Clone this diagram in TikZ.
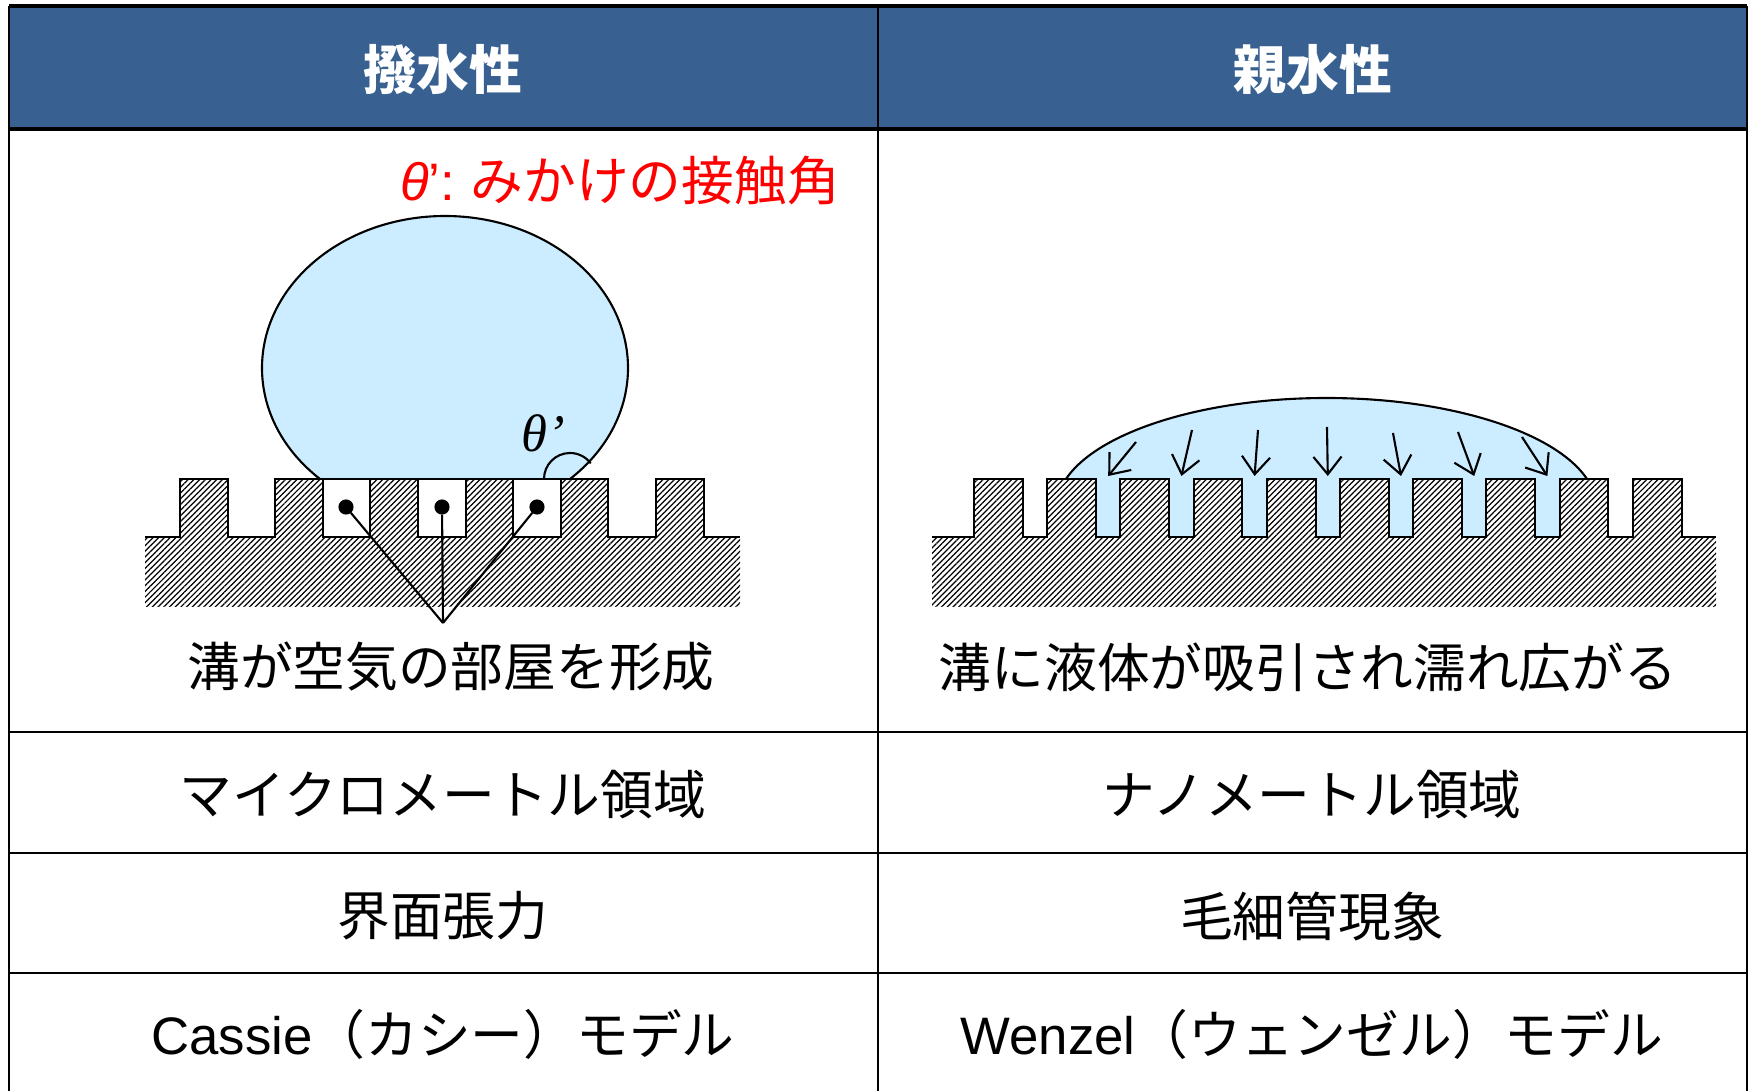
\documentclass[tikz,border=0pt]{standalone}
\usepackage{fontspec}
\setmainfont{Liberation Sans}
\newfontfamily\jp{Noto Sans CJK JP}
\newfontfamily\lat{Liberation Sans}
\newfontfamily\tms{Liberation Serif}
\usetikzlibrary{patterns.meta,arrows.meta}

\definecolor{headblue}{RGB}{56,97,145}
\definecolor{drop}{RGB}{204,236,255}

\tikzset{
	hatch/.style={pattern={Lines[angle=45,distance=1.15pt,line width=0.35pt]}},
	cell/.style={font=\jp\fontsize{15}{18}\selectfont},
	head/.style={font=\jp\bfseries\fontsize{15}{18}\selectfont, text=white},
	dot/.style={draw, circle, fill=black, inner sep=0pt, minimum size=0.13cm},
}

\begin{document}
\begin{tikzpicture}[x=0.01cm, y=0.01cm, line width=0.6pt, >={Straight Barb[length=5pt,width=8pt]}]
	\useasboundingbox (0,0) rectangle (1750,-1091);
	
	\fill[headblue] (9,-6) rectangle (1747,-129);
	\node (h1) at (443,-70) [head] {撥水性};
	\node (h2) at (1313,-70) [head] {親水性};
	
	% Cassie: drop sits on the pillar tops
	\begin{scope}
		\clip (9,-479) rectangle (878,-140);
		\filldraw[fill=drop] (445,-368) ellipse [x radius=183, y radius=152];
	\end{scope}
	\fill[hatch] (145,-607) -- (145,-537)
		\foreach \k in {0,...,5} { -- ({180+95.2*\k},-537) -- ++(0,58) -- ++(47.6,0) -- ++(0,-58) }
		-- (740,-537) -- (740,-607) -- cycle;
	\draw (145,-537)
		\foreach \k in {0,...,5} { -- ({180+95.2*\k},-537) -- ++(0,58) -- ++(47.6,0) -- ++(0,-58) }
		-- (740,-537);
	\draw (322.8,-479) -- (570,-479);
	\draw (544,-479) arc[start angle=180, end angle=37, radius=26];
	\node (th) at (543,-433) [font=\tms\itshape\fontsize{15}{18}\selectfont] {θ’};
	\node (lbl) at (620,-181) [cell, text=red] {{\lat\itshape θ}{\lat ’:} みかけの接触角};
	
	\node (a1) at (346,-507) [dot] {};
	\node (a2) at (442,-507) [dot] {};
	\node (a3) at (537,-507) [dot] {};
	\coordinate (p) at (443,-623);
	\draw
	(a1) edge (p)
	(a2) edge (p)
	(a3) edge (p)
	;
	
	% Wenzel: liquid fills the grooves
	\begin{scope}
		\clip (878,-479) rectangle (1747,-140);
		\filldraw[fill=drop] (1326.5,-508) ellipse [x radius=270, y radius=110];
	\end{scope}
	\foreach \k in {1,...,7}
		\fill[drop] ({974+73.2*\k+48.8},-478) rectangle ++(24.4,-59);
	\fill[hatch] (932,-607) -- (932,-537)
		\foreach \k in {0,...,9} { -- ({974+73.2*\k},-537) -- ++(0,58) -- ++(48.8,0) -- ++(0,-58) }
		-- (1716,-537) -- (1716,-607) -- cycle;
	\draw (932,-537)
		\foreach \k in {0,...,9} { -- ({974+73.2*\k},-537) -- ++(0,58) -- ++(48.8,0) -- ++(0,-58) }
		-- (1716,-537);
	
	\foreach \i/\x/\y in {1/1136/442, 2/1192/430, 3/1258/430, 4/1327/427, 5/1393/433, 6/1458/432, 7/1522/437} {
		\coordinate (t\i) at (\x,-\y);
		\coordinate (g\i) at ({974+73.2*\i+61},-476);
	}
	\draw
	(t1) edge[->] (g1)
	(t2) edge[->] (g2)
	(t3) edge[->] (g3)
	(t4) edge[->] (g4)
	(t5) edge[->] (g5)
	(t6) edge[->] (g6)
	(t7) edge[->] (g7)
	;
	
	\node (cap1) at (451,-667) [cell] {溝が空気の部屋を形成};
	\node (cap2) at (1308,-667) [cell] {溝に液体が吸引され濡れ広がる};
	\node (sc1) at (443,-795) [cell] {マイクロメートル領域};
	\node (sc2) at (1312,-795) [cell] {ナノメートル領域};
	\node (fc1) at (443,-916) [cell] {界面張力};
	\node (fc2) at (1312,-916) [cell] {毛細管現象};
	\node (md1) at (443,-1034) [cell] {{\lat Cassie}（カシー）モデル};
	\node (md2) at (1312,-1034) [cell] {{\lat Wenzel}（ウェンゼル）モデル};
	
	\draw[line width=1.2pt] (9,-6) -- (1747,-6) (9,-129) -- (1747,-129);
	\draw[line width=0.8pt] (9,-6) -- (9,-1091) (878,-6) -- (878,-1091) (1747,-6) -- (1747,-1091);
	\draw[line width=0.7pt] (9,-732) -- (1747,-732) (9,-853) -- (1747,-853) (9,-973) -- (1747,-973);
\end{tikzpicture}
\end{document}
